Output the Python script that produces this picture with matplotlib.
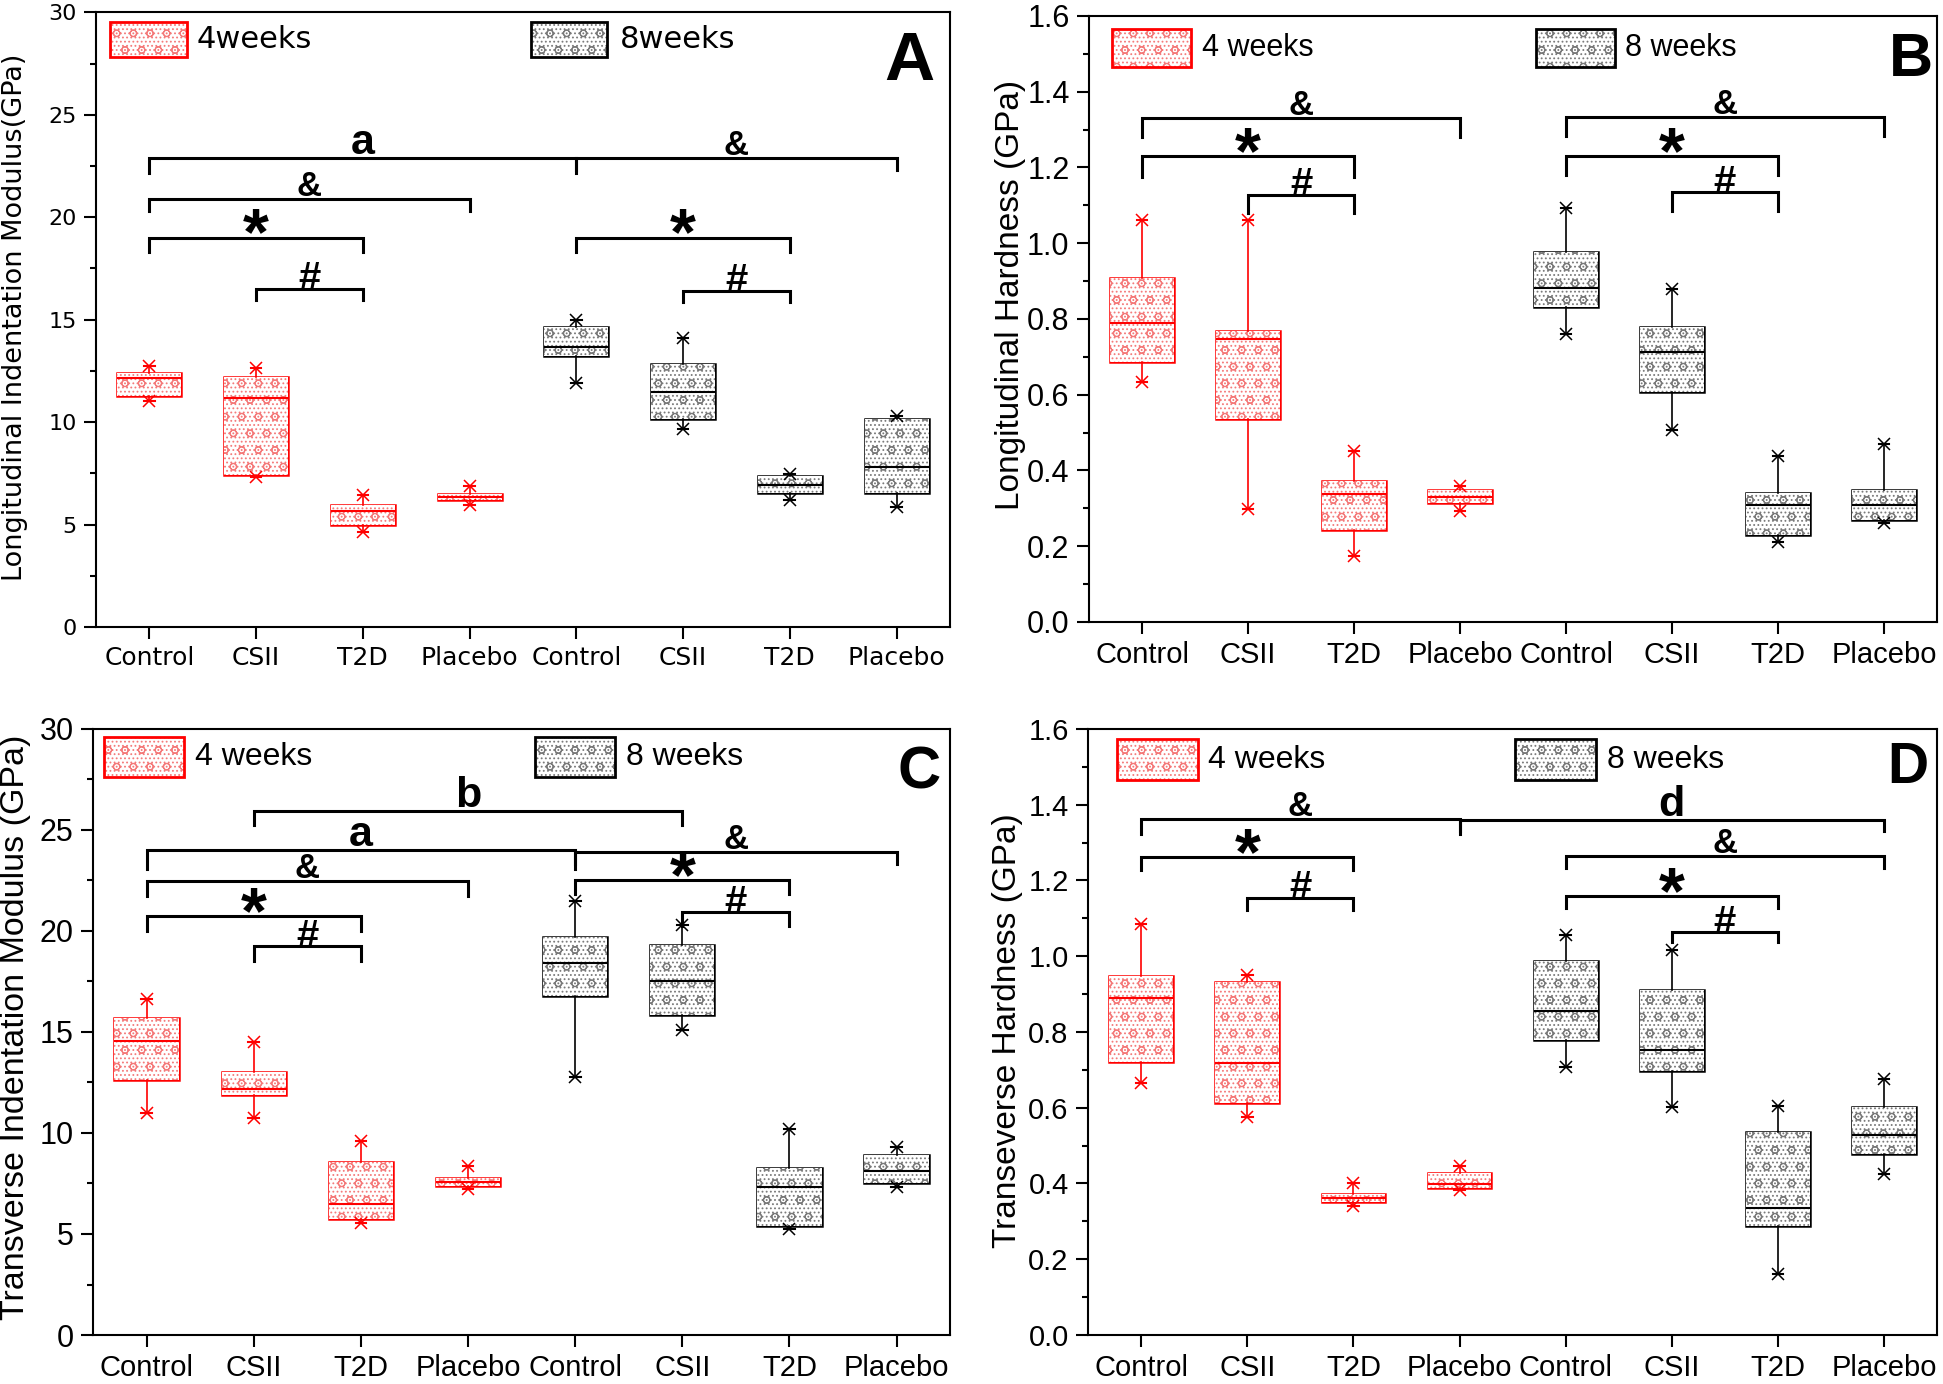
import matplotlib
matplotlib.use("Agg")
import matplotlib.pyplot as plt
from matplotlib.patches import Rectangle, PathPatch
from matplotlib.ticker import MultipleLocator, FormatStrFormatter

plt.rcParams['font.family'] = ['Liberation Sans', 'DejaVu Sans']
plt.rcParams['hatch.linewidth'] = 0.8

groups = ["Control", "CSII", "T2D", "Placebo"]
xlabels = groups + groups
pos_4w = [1, 2, 3, 4]
pos_8w = [5, 6, 7, 8]

# each row: [whisker low, Q1, median, Q3, whisker high]
A_4W = [[11.04, 11.29, 12.15, 12.42, 12.72],
        [7.33, 7.43, 11.16, 12.21, 12.66],
        [4.62, 4.99, 5.64, 5.95, 6.46],
        [5.95, 6.20, 6.34, 6.51, 6.87]]
A_8W = [[11.90, 13.22, 13.67, 14.65, 14.98],
        [9.65, 10.16, 11.49, 12.83, 14.10],
        [6.22, 6.55, 6.92, 7.39, 7.47],
        [5.85, 6.53, 7.82, 10.14, 10.32]]

B_4W = [[0.633, 0.687, 0.790, 0.909, 1.062],
        [0.298, 0.537, 0.748, 0.767, 1.062],
        [0.173, 0.242, 0.337, 0.373, 0.451],
        [0.294, 0.313, 0.331, 0.348, 0.359]]
B_8W = [[0.761, 0.831, 0.881, 0.976, 1.092],
        [0.507, 0.607, 0.714, 0.778, 0.878],
        [0.212, 0.229, 0.309, 0.340, 0.437],
        [0.261, 0.268, 0.309, 0.348, 0.470]]

C_4W = [[10.98, 12.62, 14.57, 15.71, 16.62],
        [10.75, 11.89, 12.17, 13.01, 14.50],
        [5.53, 5.72, 6.49, 8.58, 9.60],
        [7.25, 7.39, 7.59, 7.78, 8.35]]
C_8W = [[12.78, 16.78, 18.39, 19.71, 21.47],
        [15.09, 15.82, 17.54, 19.30, 20.28],
        [5.26, 5.42, 7.32, 8.28, 10.22],
        [7.32, 7.52, 8.10, 8.90, 9.31]]

D_4W = [[0.665, 0.722, 0.889, 0.948, 1.084],
        [0.576, 0.612, 0.718, 0.933, 0.950],
        [0.341, 0.352, 0.362, 0.371, 0.401],
        [0.383, 0.387, 0.399, 0.427, 0.445]]
D_8W = [[0.707, 0.779, 0.856, 0.988, 1.055],
        [0.602, 0.698, 0.752, 0.911, 1.017],
        [0.161, 0.287, 0.335, 0.537, 0.604],
        [0.426, 0.478, 0.529, 0.602, 0.677]]

# significance brackets: (label, x start, x end, line height, leg drop)
A_BRACKETS = [("a", 1, 5, 22.9, 0.75), ("&", 5, 8, 22.9, 0.6),
              ("&", 1, 4, 20.9, 0.6), ("*", 1, 3, 19.0, 0.7),
              ("#", 2, 3, 16.5, 0.55), ("*", 5, 7, 19.0, 0.7),
              ("#", 6, 7, 16.4, 0.55)]
B_BRACKETS = [("&", 1, 4, 1.331, 0.05), ("*", 1, 3, 1.229, 0.055),
              ("#", 2, 3, 1.128, 0.047), ("&", 5, 8, 1.333, 0.05),
              ("*", 5, 7, 1.229, 0.05), ("#", 6, 7, 1.134, 0.048)]
C_BRACKETS = [("b", 2, 6, 25.95, 0.7), ("a", 1, 5, 23.99, 0.9),
              ("&", 5, 8, 23.9, 0.6), ("&", 1, 4, 22.46, 0.75),
              ("*", 1, 3, 20.74, 0.75), ("#", 2, 3, 19.25, 0.75),
              ("*", 5, 7, 22.52, 0.7), ("#", 6, 7, 20.92, 0.65)]
D_BRACKETS = [("&", 1, 4, 1.362, 0.04), ("d", 4, 8, 1.36, 0.03),
              ("*", 1, 3, 1.262, 0.035), ("#", 2, 3, 1.155, 0.033),
              ("&", 5, 8, 1.265, 0.033), ("*", 5, 7, 1.159, 0.033),
              ("#", 6, 7, 1.063, 0.025)]

RED, RED_HATCH = "#ff0000", "#f47a7a"
BLACK, GRAY_HATCH = "#000000", "#7a7a7a"
HATCH = "....o"

# symbol -> (font size, vertical offset in points from the bracket line)
SYMBOL_STYLE = {"*": (48, -12), "#": (29, -1), "&": (25, 2),
                "a": (31, 3), "b": (31, 3), "d": (31, 3)}


def draw_boxes(ax, stats, positions, edge, hatch_col):
    st = [dict(whislo=s[0], q1=s[1], med=s[2], q3=s[3], whishi=s[4]) for s in stats]
    art = ax.bxp(st, positions=positions, widths=0.6, capwidths=0.1,
                 showfliers=False, patch_artist=True,
                 boxprops=dict(facecolor="white", edgecolor=hatch_col,
                               hatch=HATCH, linewidth=0),
                 medianprops=dict(color=edge, linewidth=1.5),
                 whiskerprops=dict(color=edge, linewidth=1.2),
                 capprops=dict(color=edge, linewidth=1.5))
    for b in art["boxes"]:
        ax.add_patch(PathPatch(b.get_path(), facecolor="none", edgecolor=edge,
                               linewidth=1.8, zorder=1.5))
    ax.plot(positions, [s[0] for s in stats], ls="none", marker="x", ms=8,
            mew=1.1, color=edge, zorder=3)
    ax.plot(positions, [s[4] for s in stats], ls="none", marker="x", ms=8,
            mew=1.1, color=edge, zorder=3)


def draw_brackets(ax, brackets):
    for label, x1, x2, y, drop in brackets:
        ax.plot([x1, x1, x2, x2], [y - drop, y, y, y - drop], color="black",
                lw=2.2, solid_joinstyle="miter", zorder=4)
        size, dy = SYMBOL_STYLE[label]
        ax.annotate(label, xy=((x1 + x2) / 2, y), xytext=(0, dy),
                    textcoords="offset points", ha="center", va="baseline",
                    fontsize=size, fontweight="bold", zorder=5)


def legend_item(ax, x, y, w, h, tx, text, edge, hatch_col, size, family):
    ax.add_patch(Rectangle((x, y), w, h, transform=ax.transAxes, facecolor="white",
                           edgecolor=hatch_col, hatch=HATCH, linewidth=0))
    ax.add_patch(Rectangle((x, y), w, h, transform=ax.transAxes, facecolor="none",
                           edgecolor=edge, linewidth=2))
    ax.text(tx, y + h / 2, text, transform=ax.transAxes, va="center",
            fontsize=size, family=family)


def panel(ax, s4, s8, brackets, ylabel, ylab_size, ylab_pos, ytick_size, xtick_size,
          ymax, major, minor, fmt, leg_texts, leg_size, leg_red, leg_gray_x, leg_text_x,
          letter, letter_pos, letter_size, family):
    draw_boxes(ax, s4, pos_4w, RED, RED_HATCH)
    draw_boxes(ax, s8, pos_8w, BLACK, GRAY_HATCH)
    draw_brackets(ax, brackets)

    ax.set_xlim(0.5, 8.5)
    ax.set_ylim(0, ymax)
    ax.set_xticks(pos_4w + pos_8w)
    ax.set_xticklabels(xlabels, fontsize=xtick_size, family=family)
    ax.yaxis.set_major_locator(MultipleLocator(major))
    ax.yaxis.set_minor_locator(MultipleLocator(minor))
    ax.yaxis.set_major_formatter(FormatStrFormatter(fmt))
    for t in ax.get_yticklabels():
        t.set_family(family)
    ax.tick_params(axis="y", which="major", labelsize=ytick_size, length=9, width=1.5, pad=5)
    ax.tick_params(axis="y", which="minor", length=4.5, width=1.5)
    ax.tick_params(axis="x", length=8.5, width=1.5, pad=5)
    for sp in ax.spines.values():
        sp.set_linewidth(1.5)

    ax.set_ylabel(ylabel, fontsize=ylab_size, family=family)
    ax.yaxis.set_label_coords(*ylab_pos)

    lx, ly, lw, lh = leg_red
    legend_item(ax, lx, ly, lw, lh, leg_text_x[0], leg_texts[0],
                RED, RED_HATCH, leg_size, family)
    legend_item(ax, leg_gray_x, ly, lw, lh, leg_text_x[1], leg_texts[1],
                BLACK, GRAY_HATCH, leg_size, family)

    ax.text(letter_pos[0], letter_pos[1], letter, transform=ax.transAxes, ha="center",
            va="center", fontsize=letter_size, fontweight="bold")


fig = plt.figure(figsize=(19.43, 13.84), dpi=100)
axA = fig.add_axes([0.0494, 0.547, 0.4395, 0.444])
axB = fig.add_axes([0.5605, 0.5506, 0.4364, 0.4379])
axC = fig.add_axes([0.0479, 0.0354, 0.4411, 0.4379])
axD = fig.add_axes([0.5600, 0.0354, 0.4370, 0.4379])

# panel A was drawn with a wider face in the original, DejaVu Sans mimics it
panel(axA, A_4W, A_8W, A_BRACKETS, "Longitudinal Indentation Modulus(GPa)", 19.5,
      (-0.080, 0.504), 16, 18, 30, 5, 2.5, "%d", ("4weeks", "8weeks"), 22,
      (0.016, 0.928, 0.090, 0.057), 0.509, (0.118, 0.614), "A", (0.953, 0.92), 50,
      ["DejaVu Sans"])
panel(axB, B_4W, B_8W, B_BRACKETS, "Longitudinal Hardness (GPa)", 24,
      (-0.074, 0.54), 22, 21, 1.6, 0.2, 0.1, "%.1f", ("4 weeks", "8 weeks"), 22,
      (0.027, 0.916, 0.093, 0.063), 0.527, (0.133, 0.632), "B", (0.969, 0.927), 44,
      ["Liberation Sans", "DejaVu Sans"])
panel(axC, C_4W, C_8W, C_BRACKETS, "Transverse Indentation Modulus (GPa)", 24.5,
      (-0.073, 0.507), 22, 21, 30, 5, 2.5, "%d", ("4 weeks", "8 weeks"), 23,
      (0.0128, 0.920, 0.093, 0.066), 0.516, (0.119, 0.622), "C", (0.964, 0.927), 43,
      ["Liberation Sans", "DejaVu Sans"])
panel(axD, D_4W, D_8W, D_BRACKETS, "Transeverse Hardness (GPa)", 24,
      (-0.077, 0.503), 21, 21, 1.6, 0.2, 0.1, "%.1f", ("4 weeks", "8 weeks"), 23,
      (0.034, 0.916, 0.095, 0.067), 0.503, (0.141, 0.611), "D", (0.965, 0.936), 41,
      ["Liberation Sans", "DejaVu Sans"])

fig.savefig("out.png", dpi=100)
plt.close(fig)
